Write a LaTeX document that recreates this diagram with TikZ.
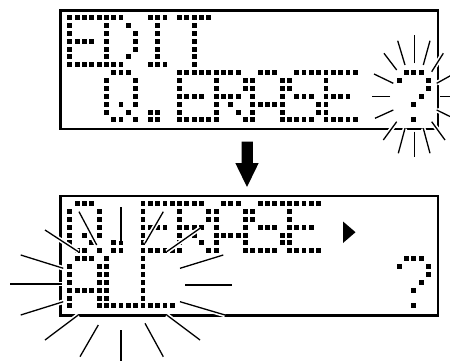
\documentclass[tikz,border=0pt]{standalone}
\usetikzlibrary{calc}
\tikzset{
  lcdbox/.style={draw=black, line width=2.3pt},
  ray/.style={line width=1.3pt, draw=black},
  rayhalo/.style={line width=4.6pt, draw=white},
}
% glyph definitions: row/{columns}
\def\gE{0/{0,1,2,3,4},1/{0},2/{0},3/{0,1,2,3},4/{0},5/{0},6/{0,1,2,3,4}}
\def\gD{0/{0,1,2},1/{0,3},2/{0,4},3/{0,4},4/{0,4},5/{0,3},6/{0,1,2}}
\def\gI{0/{1,2,3},1/{2},2/{2},3/{2},4/{2},5/{2},6/{1,2,3}}
\def\gT{0/{0,1,2,3,4},1/{2},2/{2},3/{2},4/{2},5/{2},6/{2}}
\def\gQ{0/{1,2,3},1/{0,4},2/{0,4},3/{0,4},4/{0,2,4},5/{0,3},6/{1,2,4}}
\def\gP{5/{1,2},6/{1,2}}
\def\gR{0/{0,1,2,3},1/{0,4},2/{0,4},3/{0,1,2,3},4/{0,2},5/{0,3},6/{0,4}}
\def\gA{0/{1,2,3},1/{0,4},2/{0,4},3/{0,4},4/{0,1,2,3,4},5/{0,4},6/{0,4}}
\def\gS{0/{1,2,3,4},1/{0},2/{0},3/{1,2,3},4/{4},5/{4},6/{0,1,2,3}}
\def\gL{0/{0},1/{0},2/{0},3/{0},4/{0},5/{0},6/{0,1,2,3,4}}
\def\gQm{0/{1,2,3},1/{0,4},2/{4},3/{3},4/{2},6/{2}}
% #1 char index, #2 y of row 0 centre, #3 glyph
\newcommand{\lcdglyph}[3]{%
  \foreach \r/\cols in #3 {%
    \foreach \c in \cols {%
      \fill ({69.8+7.32*(5*#1+\c)-2.45},{#2+7.88*\r-2.5}) rectangle +(4.9,5.0);
    }%
  }%
}
\newcommand{\flash}[2]{%
  \draw[rayhalo] #1 -- #2;
  \draw[ray] #1 -- #2;
}
\begin{document}
\begin{tikzpicture}[x=1pt,y=-1pt]
\useasboundingbox (0,0) rectangle (450,361);

% ---------- top display ----------
\draw[lcdbox] (60.5,10.5) rectangle (438,129.3);
\lcdglyph{0}{17.5}{\gE}
\lcdglyph{1}{17.5}{\gD}
\lcdglyph{2}{17.5}{\gI}
\lcdglyph{3}{17.5}{\gT}
\lcdglyph{1}{72.66}{\gQ}
\lcdglyph{2}{72.66}{\gP}
\lcdglyph{3}{72.66}{\gE}
\lcdglyph{4}{72.66}{\gR}
\lcdglyph{5}{72.66}{\gA}
\lcdglyph{6}{72.66}{\gS}
\lcdglyph{7}{72.66}{\gE}
\lcdglyph{9}{72.66}{\gQm}

% flash around the question mark
\flash{(414.3,63.3)}{(414.3,35)}
\flash{(405,65)}{(397.7,40.7)}
\flash{(423.3,65)}{(430,40.7)}
\flash{(396.7,70)}{(384,53.3)}
\flash{(431.7,71.7)}{(443.3,53.3)}
\flash{(393.3,83.3)}{(374,74)}
\flash{(436.7,83.3)}{(451.7,75)}
\flash{(390,96.7)}{(371.7,96.7)}
\flash{(440,96.7)}{(451,96.7)}
\flash{(393.3,110)}{(375,118.3)}
\flash{(436.7,110)}{(451,117)}
\flash{(396.7,121.7)}{(383.3,140)}
\flash{(431.7,121.7)}{(445,140)}
\flash{(405,128.3)}{(398.3,153.3)}
\flash{(414.3,131.7)}{(414.3,156.7)}
\flash{(423.3,128.3)}{(430,153.3)}

% ---------- arrow ----------
\fill (241.7,141.5) -- (252.8,141.5) -- (252.8,163) -- (258.7,163)
      -- (247,187) -- (235.3,163) -- (241.7,163) -- cycle;

% ---------- bottom display ----------
\draw[lcdbox] (60.5,196) rectangle (438,315.5);
\lcdglyph{0}{203.5}{\gQ}
\lcdglyph{1}{203.5}{\gP}
\lcdglyph{2}{203.5}{\gE}
\lcdglyph{3}{203.5}{\gR}
\lcdglyph{4}{203.5}{\gA}
\lcdglyph{5}{203.5}{\gS}
\lcdglyph{6}{203.5}{\gE}
\fill (343,221.5) -- (355.5,232.2) -- (343,243) -- cycle;
\lcdglyph{0}{258.66}{\gA}
\lcdglyph{1}{258.66}{\gL}
\lcdglyph{2}{258.66}{\gL}
\lcdglyph{9}{258.66}{\gQm}

% flash around ALL
\flash{(78.3,251.7)}{(45,230)}
\flash{(96.7,245)}{(79,211.7)}
\flash{(121,241)}{(121,206.7)}
\flash{(145,243.3)}{(163.3,211.7)}
\flash{(166.7,251.7)}{(200,228.3)}
\flash{(63.3,268.3)}{(20.7,255)}
\flash{(180,268.3)}{(223.3,255)}
\flash{(61.7,284)}{(10,284)}
\flash{(185,285)}{(231.7,285)}
\flash{(63.3,301.7)}{(20.7,315)}
\flash{(180,301.7)}{(225,315)}
\flash{(78.3,315)}{(45,340)}
\flash{(98.3,325)}{(80,356.7)}
\flash{(121,330)}{(121,361.7)}
\flash{(145,323.3)}{(163.3,356.7)}
\flash{(166.7,315)}{(200,340)}
\end{tikzpicture}
\end{document}
